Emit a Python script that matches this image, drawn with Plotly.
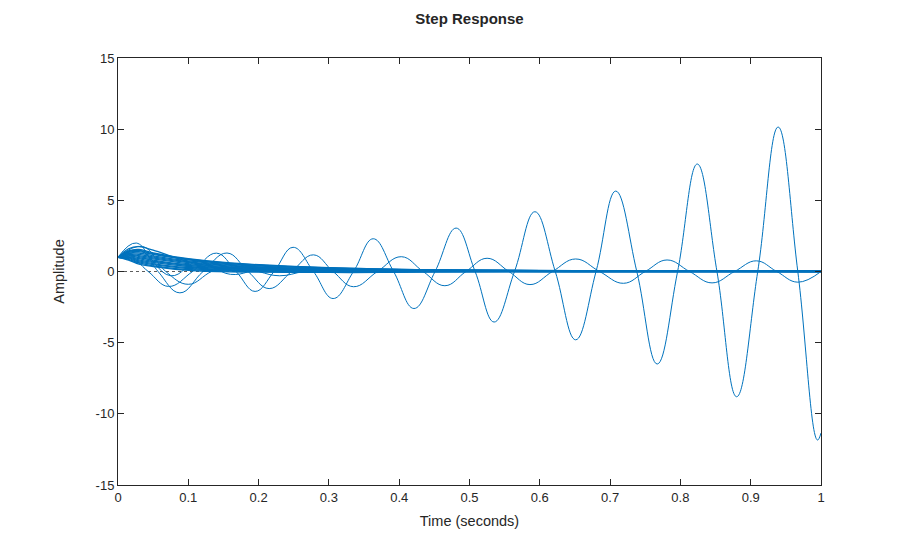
import plotly.graph_objects as go

# growing oscillation (unstable pair)
grow_t = [0, 0.015, 0.043, 0.072, 0.106, 0.14, 0.168, 0.195, 0.222, 0.249, 0.278,
          0.306, 0.335, 0.363, 0.392, 0.421, 0.451, 0.481, 0.508, 0.535, 0.564,
          0.593, 0.622, 0.651, 0.68, 0.708, 0.738, 0.767, 0.796, 0.824, 0.852,
          0.880, 0.91, 0.939, 0.967, 0.995, 1.0]
grow_y = [1.0, 1.15, 0, -1.05, 0, 1.29, 0, -1.4, 0, 1.7, 0,
          -1.9, 0, 2.3, 0, -2.6, 0, 3.05, 0, -3.55, 0,
          4.2, 0, -4.8, 0, 5.65, 0, -6.5, 0, 7.55, 0,
          -8.8, 0, 10.15, 0, -11.84, -11.35]

# lightly damped oscillation
osc_t = [0, 0.026, 0.057, 0.088, 0.121, 0.155, 0.185, 0.215, 0.247, 0.278, 0.306,
         0.335, 0.369, 0.403, 0.434, 0.465, 0.495, 0.525, 0.556, 0.586, 0.618,
         0.651, 0.685, 0.719, 0.75, 0.781, 0.813, 0.845, 0.877, 0.908, 0.937,
         0.967, 1.0]
osc_y = [1.0, 2.0, 0, -1.5, 0, 1.3, 0, -1.2, 0, 1.17, 0,
         -1.07, 0, 1.04, 0, -1.0, 0, 0.93, 0, -0.92, 0,
         0.88, 0, -0.83, 0, 0.81, 0, -0.8, 0, 0.75, 0,
         -0.75, 0.0]

# two more damped ones in the first 0.4 s
damp1_t = [0, 0.035, 0.068, 0.1, 0.133, 0.165, 0.2, 0.23, 0.265, 0.3, 0.37, 0.45, 1.0]
damp1_y = [1.0, 1.76, 0, -0.9, 0, 0.55, 0, -0.3, 0, 0.15, -0.05, 0.02, 0.0]
damp2_t = [0, 0.03, 0.075, 0.115, 0.16, 0.21, 0.27, 0.35, 1.0]
damp2_y = [1.0, 1.5, -0.3, 0.72, -0.2, 0.25, 0.0, 0.05, 0.0]

# bundle of overdamped responses decaying to zero
bundle_t = [0, 0.015, 0.03, 0.05, 0.1, 0.16, 0.3, 0.45, 0.65, 1.0]
bundle_y = [
    [1, 1.45, 1.55, 1.3, 0.9, 0.6, 0.27, 0.12, 0.06, 0.03],
    [1, 1.4, 1.48, 1.25, 0.86, 0.57, 0.25, 0.11, 0.05, 0.03],
    [1, 1.35, 1.4, 1.2, 0.82, 0.54, 0.24, 0.1, 0.05, 0.02],
    [1, 1.3, 1.3, 1.1, 0.75, 0.48, 0.21, 0.09, 0.04, 0.02],
    [1, 1.25, 1.2, 1.02, 0.68, 0.43, 0.18, 0.08, 0.03, 0.01],
    [1, 1.2, 1.12, 0.95, 0.62, 0.38, 0.15, 0.06, 0.02, 0.01],
    [1, 1.15, 1.05, 0.88, 0.55, 0.33, 0.13, 0.05, 0.02, 0.0],
    [1, 1.1, 0.98, 0.8, 0.48, 0.28, 0.1, 0.04, 0.01, 0.0],
    [1, 1.05, 0.9, 0.72, 0.42, 0.23, 0.08, 0.03, 0.01, 0.0],
    [1, 1.0, 0.82, 0.64, 0.35, 0.18, 0.06, 0.02, 0.0, 0.0],
    [1, 0.95, 0.75, 0.56, 0.28, 0.13, 0.04, 0.01, 0.0, 0.0],
    [1, 0.9, 0.68, 0.48, 0.21, 0.08, 0.02, 0.0, 0.0, 0.0],
    [1, 0.85, 0.6, 0.4, 0.14, 0.03, -0.02, -0.01, 0.0, 0.0],
    [1, 0.8, 0.52, 0.35, 0.08, -0.03, -0.05, -0.02, 0.0, 0.0],
    [1, 1.6, 1.75, 1.5, 0.7, 0.2, -0.06, -0.02, 0.0, 0.0],
]

x_ticks = [0, 0.1, 0.2, 0.3, 0.4, 0.5, 0.6, 0.7, 0.8, 0.9, 1]
x_labels = ["0", "0.1", "0.2", "0.3", "0.4", "0.5", "0.6", "0.7", "0.8", "0.9", "1"]
y_ticks = [-15, -10, -5, 0, 5, 10, 15]
y_labels = ["-15", "-10", "-5", "0", "5", "10", "15"]

LINE = "#0072BD"
INK = "#262626"
FONT = "Liberation Sans, Arial, sans-serif"

fig = go.Figure()

# steady-state dotted line
fig.add_trace(go.Scatter(x=[0, 1], y=[0, 0], mode="lines",
                         line=dict(color="#333333", width=0.8, dash="dot"),
                         hoverinfo="skip"))

for ys in bundle_y:
    fig.add_trace(go.Scatter(x=bundle_t, y=ys, mode="lines",
                             line=dict(color=LINE, width=1.3, shape="spline")))

for tt, yy in [(damp1_t, damp1_y), (damp2_t, damp2_y), (osc_t, osc_y), (grow_t, grow_y)]:
    fig.add_trace(go.Scatter(x=tt, y=yy, mode="lines",
                             line=dict(color=LINE, width=1, shape="spline", smoothing=1.2)))

# page body adds an 8 px offset, so margins are trimmed accordingly
fig.update_layout(
    width=908,
    height=546,
    margin=dict(l=110, r=95, t=50, b=69),
    paper_bgcolor="white",
    plot_bgcolor="white",
    showlegend=False,
    font=dict(family=FONT, size=13, color=INK),
    title=dict(text="<b>Step Response</b>", x=0.5, xref="paper", y=0.98,
               xanchor="center", yanchor="middle", font=dict(size=15, color=INK)),
)
fig.update_xaxes(
    range=[0, 1], tickvals=x_ticks, ticktext=x_labels,
    showline=True, linecolor=INK, linewidth=1, mirror="ticks",
    ticks="inside", ticklen=6, tickcolor=INK, showgrid=False, zeroline=False,
    title=dict(text="Time (seconds)", font=dict(size=14.5), standoff=12),
)
fig.update_yaxes(
    range=[-15, 15], tickvals=y_ticks, ticktext=y_labels,
    showline=True, linecolor=INK, linewidth=1, mirror="ticks",
    ticks="inside", ticklen=6, tickcolor=INK, showgrid=False, zeroline=False,
    title=dict(text="Amplitude", font=dict(size=14.5), standoff=27),
)

fig.write_html("out.html")
